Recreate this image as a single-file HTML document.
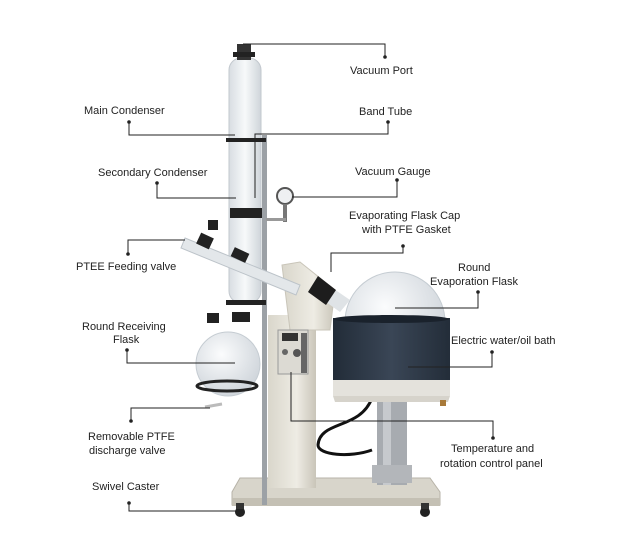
<!DOCTYPE html>
<html><head><meta charset="utf-8"><style>
html,body{margin:0;padding:0;background:#fff;}
svg{display:block;}
text{font-family:"Liberation Sans",sans-serif;font-size:11px;fill:#222;}
</style></head><body>
<svg width="620" height="545" viewBox="0 0 620 545" xmlns="http://www.w3.org/2000/svg">
<defs>
<linearGradient id="glass" x1="0" x2="1"><stop offset="0" stop-color="#d8dde2"/><stop offset="0.5" stop-color="#f7f9fa"/><stop offset="1" stop-color="#cfd5da"/></linearGradient>
<linearGradient id="beige" x1="0" x2="1"><stop offset="0" stop-color="#d9d6cb"/><stop offset="0.6" stop-color="#eeece4"/><stop offset="1" stop-color="#c9c5b9"/></linearGradient>
<linearGradient id="bath" x1="0" x2="1"><stop offset="0" stop-color="#222c38"/><stop offset="0.5" stop-color="#3a4656"/><stop offset="1" stop-color="#232d39"/></linearGradient>
<radialGradient id="flask" cx="0.4" cy="0.35" r="0.7"><stop offset="0" stop-color="#fbfcfd"/><stop offset="1" stop-color="#cdd3d9"/></radialGradient>
</defs>

<!-- base -->
<path d="M240 478 L430 478 L440 492 L440 505 L232 505 L232 492 Z" fill="#d8d5cb" stroke="#b7b3a8"/>
<rect x="232" y="498" width="208" height="8" fill="#c4c0b4"/>
<circle cx="240" cy="512" r="5" fill="#222"/>
<circle cx="425" cy="512" r="5" fill="#222"/>
<rect x="236" y="503" width="8" height="6" fill="#333"/>
<rect x="421" y="503" width="8" height="6" fill="#333"/>

<!-- support column for bath -->
<rect x="377" y="395" width="30" height="90" fill="#a7abb0"/>
<rect x="383" y="395" width="8" height="90" fill="#c6c9cd"/>
<rect x="372" y="465" width="40" height="18" fill="#b3b6ba"/>
<!-- cables -->
<path d="M372 398 C360 430 320 420 318 445 C318 455 350 458 372 450" fill="none" stroke="#111" stroke-width="3"/>

<!-- vertical rod -->
<rect x="262" y="135" width="5" height="370" fill="#9ca1a6"/>

<!-- main body pillar -->
<rect x="268" y="315" width="48" height="173" fill="url(#beige)"/>
<!-- arm -->
<path d="M282 265 L300 262 L335 290 L330 330 L290 330 Z" fill="url(#beige)" stroke="#c9c5b9"/>
<rect x="278" y="330" width="30" height="44" fill="#dcdad3" stroke="#999"/>
<rect x="282" y="333" width="16" height="8" fill="#333"/>
<circle cx="285" cy="352" r="3" fill="#666"/><circle cx="297" cy="353" r="4" fill="#555"/>
<rect x="301" y="333" width="6" height="40" fill="#666"/>

<!-- condenser column -->
<rect x="229" y="58" width="32" height="245" rx="12" fill="url(#glass)" stroke="#c2c8ce"/>
<rect x="237" y="44" width="14" height="16" fill="#333"/>
<rect x="233" y="52" width="22" height="5" fill="#222"/>
<rect x="226" y="138" width="40" height="4" fill="#222"/>
<rect x="230" y="208" width="32" height="10" fill="#222"/>
<rect x="226" y="300" width="40" height="5" fill="#222"/>
<rect x="232" y="312" width="18" height="10" fill="#222"/>
<rect x="207" y="313" width="12" height="10" fill="#222"/>

<!-- angled vapor tube -->
<path d="M185 238 L300 285 L296 295 L181 248 Z" fill="#e3e7ea" stroke="#bcc3c9"/>
<rect x="198" y="235" width="14" height="12" fill="#222" transform="rotate(25 205 241)"/>
<rect x="208" y="220" width="10" height="10" fill="#222"/>
<rect x="232" y="250" width="16" height="10" fill="#222" transform="rotate(25 240 255)"/>

<!-- gauge -->
<circle cx="285" cy="196" r="8" fill="#eef0f2" stroke="#555" stroke-width="2"/>
<rect x="283" y="204" width="4" height="18" fill="#777"/>
<rect x="266" y="218" width="20" height="3" fill="#999"/>

<!-- receiving flask -->
<circle cx="228" cy="364" r="32" fill="url(#flask)" stroke="#c5ccd2"/>
<ellipse cx="227" cy="386" rx="30" ry="5" fill="none" stroke="#222" stroke-width="3"/>
<path d="M205 407 L222 404" stroke="#bbb" stroke-width="3"/>

<!-- evaporation flask -->
<circle cx="395" cy="322" r="50" fill="url(#flask)" stroke="#c5ccd2"/>
<path d="M318 278 L350 300 L340 312 L312 292 Z" fill="#dfe3e6"/>
<path d="M318 276 L336 290 L326 305 L308 292 Z" fill="#1d1d1d"/>

<!-- bath -->
<rect x="333" y="318" width="117" height="62" fill="url(#bath)"/>
<ellipse cx="391" cy="319" rx="58" ry="4" fill="#1a222c"/>
<rect x="333" y="380" width="117" height="16" fill="#e4e2dc"/>
<path d="M333 396 L450 396 L448 402 L335 402 Z" fill="#d6d3cb"/>
<rect x="440" y="400" width="6" height="6" fill="#a87a3a"/>

<!-- leader lines -->
<g stroke="#222" stroke-width="1" fill="none">
<polyline points="243,44 385,44 385,57"/>
<polyline points="129,122 129,135 235,135"/>
<polyline points="157,183 157,198 236,198"/>
<polyline points="128,254 128,240 185,240"/>
<polyline points="127,350 127,363 235,363"/>
<polyline points="131,421 131,408 210,408"/>
<polyline points="129,503 129,511 236,511"/>
<polyline points="388,122 388,134 255,134 255,198"/>
<polyline points="397,180 397,197 292,197"/>
<polyline points="403,246 403,253 331,253 331,272"/>
<polyline points="478,292 478,308 395,308"/>
<polyline points="492,352 492,367 408,367"/>
<polyline points="493,438 493,421 291,421 291,372"/>
</g>
<g fill="#222">
<circle cx="385" cy="57" r="1.8"/><circle cx="129" cy="122" r="1.8"/><circle cx="157" cy="183" r="1.8"/>
<circle cx="128" cy="254" r="1.8"/><circle cx="127" cy="350" r="1.8"/><circle cx="131" cy="421" r="1.8"/>
<circle cx="129" cy="503" r="1.8"/><circle cx="388" cy="122" r="1.8"/><circle cx="397" cy="180" r="1.8"/>
<circle cx="403" cy="246" r="1.8"/><circle cx="478" cy="292" r="1.8"/><circle cx="492" cy="352" r="1.8"/>
<circle cx="493" cy="438" r="1.8"/>
</g>

<!-- labels -->
<text x="350" y="74">Vacuum Port</text>
<text x="84" y="114">Main Condenser</text>
<text x="359" y="115">Band Tube</text>
<text x="98" y="176">Secondary Condenser</text>
<text x="355" y="175">Vacuum Gauge</text>
<text x="349" y="219">Evaporating Flask Cap</text>
<text x="362" y="233">with PTFE Gasket</text>
<text x="76" y="270">PTEE Feeding valve</text>
<text x="458" y="271">Round</text>
<text x="430" y="285">Evaporation Flask</text>
<text x="82" y="330">Round Receiving</text>
<text x="113" y="343">Flask</text>
<text x="451" y="344">Electric water/oil bath</text>
<text x="88" y="440">Removable PTFE</text>
<text x="89" y="454">discharge valve</text>
<text x="451" y="452">Temperature and</text>
<text x="440" y="467">rotation control panel</text>
<text x="92" y="490">Swivel Caster</text>
</svg>
</body></html>
